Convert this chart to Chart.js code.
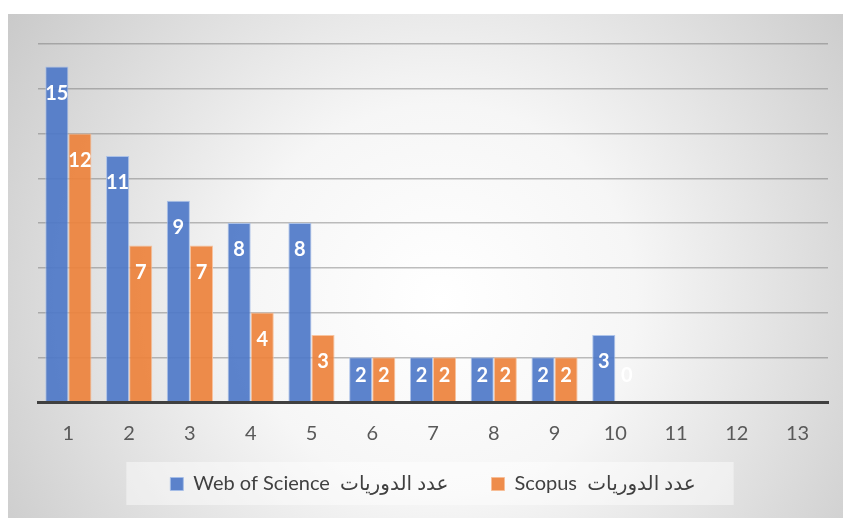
<!DOCTYPE html>
<html>
<head>
<meta charset="utf-8">
<script src="https://cdn.jsdelivr.net/npm/chart.js@4"></script>
<style>
  html, body { margin: 0; padding: 0; background: #fff; }
  canvas { display: block; }
</style>
</head>
<body>
<canvas id="myChart" width="843" height="518"></canvas>
<script>
// categories and values
var labels = ['1', '2', '3', '4', '5', '6', '7', '8', '9', '10', '11', '12', '13'];
var wosValues = [15, 11, 9, 8, 8, 2, 2, 2, 2, 3, null, null, null];
var scopusValues = [12, 7, 7, 4, 3, 2, 2, 2, 2, 0, null, null, null];
var seriesNames = ['Web of Science  عدد الدوريات', 'Scopus  عدد الدوريات'];
var yTicks = { min: 0, max: 16, step: 2 };

var fontFamily = "Lato, 'DejaVu Sans', sans-serif";

// gray radial frame + legend panel
var backgroundPlugin = {
    id: 'background',
    beforeDraw: function(chart) {
        var c = chart.ctx;
        c.save();
        c.fillStyle = '#ffffff';
        c.fillRect(0, 0, chart.width, chart.height);
        var g = c.createRadialGradient(440, 300, 0, 440, 300, 560);
        g.addColorStop(0, '#ffffff');
        g.addColorStop(0.35, '#f6f6f6');
        g.addColorStop(1, '#c4c4c4');
        c.fillStyle = g;
        c.fillRect(8, 14, chart.width - 8, chart.height - 14);

        var lg = chart.legend;
        if (lg && lg.legendHitBoxes.length) {
            var boxes = lg.legendHitBoxes;
            var first = boxes[0], last = boxes[boxes.length - 1];
            var x0 = first.left - 44;
            var x1 = last.left + last.width + 38;
            var cy = first.top + first.height / 2;
            c.fillStyle = 'rgba(255,255,255,0.45)';
            c.fillRect(x0, cy - 22, x1 - x0, 43);
        }
        c.restore();
    }
};

// white value labels just inside the bar tops
var valueLabels = {
    id: 'valueLabels',
    afterDatasetsDraw: function(chart) {
        var c = chart.ctx;
        c.save();
        c.font = "bold 20px " + fontFamily;
        c.fillStyle = '#ffffff';
        c.textAlign = 'center';
        c.textBaseline = 'middle';
        chart.data.datasets.forEach(function(ds, i) {
            var meta = chart.getDatasetMeta(i);
            meta.data.forEach(function(bar, j) {
                var v = ds.data[j];
                if (v === null || v === undefined) return;
                var y = Math.min(bar.y + 27, bar.base - 26);
                c.fillText(String(v), bar.x, y);
            });
        });
        c.restore();
    }
};

var ctx = document.getElementById('myChart').getContext('2d');
var chart = new Chart(ctx, {
    type: 'bar',
    data: {
        labels: labels,
        datasets: [{
            label: seriesNames[0],
            data: wosValues,
            backgroundColor: 'rgba(78, 120, 200, 0.92)',
            borderColor: 'rgba(165, 190, 232, 0.9)',
            borderWidth: 1
        }, {
            label: seriesNames[1],
            data: scopusValues,
            backgroundColor: 'rgba(237, 130, 60, 0.92)',
            borderColor: 'rgba(247, 190, 150, 0.9)',
            borderWidth: function(c) { return c.raw ? 1 : 0; }
        }]
    },
    options: {
        responsive: false,
        animation: false,
        layout: { padding: { left: 38, right: 15, top: 44, bottom: 14 } },
        datasets: {
            bar: { categoryPercentage: 0.76, barPercentage: 1 }
        },
        scales: {
            x: {
                grid: { display: false, drawTicks: false },
                border: { display: true, color: '#404040', width: 3, z: 1 },
                ticks: {
                    color: '#595959',
                    padding: 20,
                    font: { family: fontFamily, size: 20 }
                }
            },
            y: {
                min: yTicks.min,
                max: yTicks.max,
                ticks: { display: false, stepSize: yTicks.step },
                border: { display: false },
                grid: { color: 'rgba(110,110,110,0.45)', lineWidth: 1.5, drawTicks: false }
            }
        },
        plugins: {
            tooltip: { enabled: false },
            legend: {
                position: 'bottom',
                labels: {
                    color: '#404040',
                    boxWidth: 13,
                    boxHeight: 13,
                    padding: 8,
                    font: { family: fontFamily, size: 20 },
                    generateLabels: function(chart) {
                        var items = Chart.defaults.plugins.legend.labels.generateLabels(chart);
                        // extra room after the first entry, as in the picture
                        if (items.length > 1) items[0].text += '\u2003\u2002\u2002';
                        return items;
                    }
                }
            }
        }
    },
    plugins: [backgroundPlugin, valueLabels]
});
</script>
</body>
</html>
